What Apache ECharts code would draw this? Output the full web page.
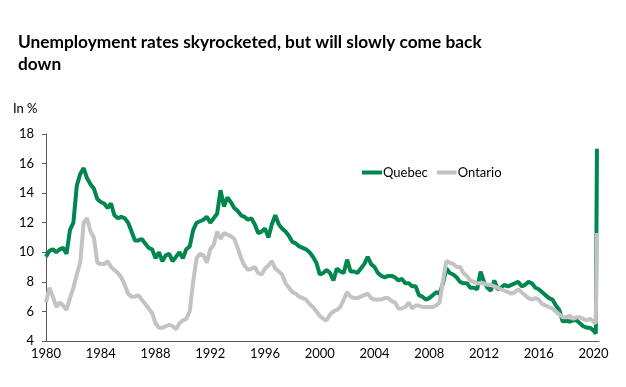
<!DOCTYPE html>
<html>
<head>
<meta charset="utf-8">
<script src="https://cdn.jsdelivr.net/npm/echarts@6/dist/echarts.min.js"></script>
<style>
html,body{margin:0;padding:0;background:#fff;}
#chart{width:626px;height:387px;}
</style>
</head>
<body>
<div id="chart"></div>
<script>
// Quarterly readings (Jan, Apr, Jul, Oct) from 1980 Q1 to Jan 2020
const startYear = 1980;
const stepYears = 0.25;
const quebecQuarterly = [
  9.7, 10.1, 10.2, 10.0,   // 1980
  10.2, 10.3, 9.9, 11.5,   // 1981
  12.0, 14.5, 15.3, 15.7,  // 1982
  15.0, 14.6, 14.3, 13.6,  // 1983
  13.4, 13.3, 13.0, 13.3,  // 1984
  12.5, 12.3, 12.4, 12.3,  // 1985
  12.0, 11.4, 10.8, 10.8,  // 1986
  10.9, 10.6, 10.3, 10.2,  // 1987
  9.6, 10.0, 9.4, 9.8,     // 1988
  9.9, 9.4, 9.7, 10.0,     // 1989
  9.6, 10.2, 10.4, 11.5,   // 1990
  12.0, 12.1, 12.2, 12.4,  // 1991
  12.0, 12.3, 12.6, 14.2,  // 1992
  13.1, 13.7, 13.4, 13.0,  // 1993
  12.8, 12.5, 12.4, 12.2,  // 1994
  12.3, 11.9, 11.3, 11.4,  // 1995
  11.6, 11.0, 11.9, 12.5,  // 1996
  11.9, 11.6, 11.4, 11.1,  // 1997
  10.7, 10.6, 10.4, 10.3,  // 1998
  10.2, 10.0, 9.7, 9.3,    // 1999
  8.5, 8.6, 8.8, 8.6,      // 2000
  8.1, 8.9, 8.7, 8.6,      // 2001
  9.5, 8.7, 8.7, 8.6,      // 2002
  8.9, 9.2, 9.7, 9.2,      // 2003
  9.0, 8.6, 8.4, 8.3,      // 2004
  8.4, 8.4, 8.3, 8.1,      // 2005
  8.2, 7.9, 7.9, 7.7,      // 2006
  7.7, 7.1, 7.0, 6.8,      // 2007
  6.9, 7.1, 7.3, 7.2,      // 2008
  7.9, 8.9, 8.6, 8.5,      // 2009
  8.3, 8.0, 7.9, 7.9,      // 2010
  7.6, 7.6, 7.5, 8.7,      // 2011
  8.0, 7.6, 7.4, 8.1,      // 2012
  7.5, 7.6, 7.8, 7.7,      // 2013
  7.8, 7.9, 8.0, 7.7,      // 2014
  7.8, 8.0, 7.9, 7.6,      // 2015
  7.5, 7.3, 7.1, 6.9,      // 2016
  6.8, 6.4, 6.1, 5.3,      // 2017
  5.4, 5.3, 5.4, 5.4,      // 2018
  5.2, 5.0, 4.9, 4.9,      // 2019
  4.7                      // Jan 2020
];
const ontarioQuarterly = [
  6.6, 7.6, 7.0, 6.3,      // 1980
  6.6, 6.4, 6.1, 6.9,      // 1981
  7.6, 8.5, 9.3, 12.0,     // 1982
  12.3, 11.4, 11.0, 9.3,   // 1983
  9.2, 9.2, 9.4, 9.0,      // 1984
  8.8, 8.6, 8.3, 7.8,      // 1985
  7.2, 7.0, 7.0, 7.1,      // 1986
  6.8, 6.5, 6.2, 5.9,      // 1987
  5.2, 4.9, 4.9, 5.0,      // 1988
  5.1, 5.0, 4.8, 5.2,      // 1989
  5.4, 5.5, 6.0, 8.0,      // 1990
  9.6, 9.9, 9.8, 9.3,      // 1991
  10.2, 10.5, 11.4, 10.9,  // 1992
  11.3, 11.2, 11.1, 10.9,  // 1993
  10.3, 9.6, 9.1, 8.8,     // 1994
  8.9, 9.0, 8.6, 8.5,      // 1995
  8.9, 9.1, 9.4, 8.9,      // 1996
  8.7, 8.5, 7.9, 7.6,      // 1997
  7.3, 7.2, 7.0, 6.9,      // 1998
  6.8, 6.5, 6.3, 6.0,      // 1999
  5.7, 5.5, 5.4, 5.8,      // 2000
  6.0, 6.1, 6.3, 6.8,      // 2001
  7.3, 7.0, 6.9, 6.9,      // 2002
  7.0, 7.1, 7.2, 6.9,      // 2003
  6.8, 6.8, 6.8, 6.9,      // 2004
  6.9, 6.7, 6.6, 6.2,      // 2005
  6.2, 6.3, 6.6, 6.2,      // 2006
  6.4, 6.4, 6.3, 6.3,      // 2007
  6.3, 6.3, 6.4, 6.6,      // 2008
  8.1, 9.4, 9.3, 9.2,      // 2009
  9.0, 9.0, 8.6, 8.4,      // 2010
  8.1, 8.0, 7.9, 7.9,      // 2011
  7.9, 7.8, 7.8, 7.7,      // 2012
  7.6, 7.5, 7.4, 7.3,      // 2013
  7.2, 7.3, 7.5, 7.3,      // 2014
  7.1, 6.9, 6.8, 6.9,      // 2015
  6.8, 6.5, 6.4, 6.3,      // 2016
  6.2, 6.0, 5.8, 5.6,      // 2017
  5.6, 5.7, 5.5, 5.6,      // 2018
  5.6, 5.5, 5.4, 5.5,      // 2019
  5.3                      // Jan 2020
];
// Latest monthly points: March and April 2020
const recentMonths = [3, 4];
const quebecRecent = [4.5, 17.0];
const ontarioRecent = [5.2, 11.3];

const yTicks = [4, 6, 8, 10, 12, 14, 16, 18];
const xTickYears = [1980, 1984, 1988, 1992, 1996, 2000, 2004, 2008, 2012, 2016, 2020];

function buildSeries(quarterly, recent) {
  const pts = quarterly.map((v, i) => [startYear + i * stepYears, v]);
  recent.forEach((v, i) => pts.push([2020 + (recentMonths[i] - 1) / 12, v]));
  return pts;
}

const GREEN = '#00874d';
const GREY = '#c3c3c3';
const FONT = 'Lato, "Open Sans", sans-serif';

const chart = echarts.init(document.getElementById('chart'), null, {renderer: 'canvas'});
chart.setOption({
  animation: false,
  backgroundColor: '#ffffff',
  title: {
    text: 'Unemployment rates skyrocketed, but will slowly come back\ndown',
    left: 13, top: 26,
    textStyle: {fontFamily: FONT, fontWeight: 'bold', fontSize: 17.3, color: '#000', lineHeight: 22}
  },
  graphic: [{
    type: 'text', left: 13, top: 102,
    style: {text: 'In %', fontFamily: FONT, fontSize: 13, fill: '#000'}
  }],
  legend: {
    left: 357, top: 161,
    itemWidth: 20, itemHeight: 4, itemGap: 9,
    icon: 'rect',
    textStyle: {fontFamily: FONT, fontSize: 13, color: '#000', padding: [0, 0, 0, -4]},
    data: ['Quebec', 'Ontario']
  },
  grid: {left: 46, right: 27, top: 134, bottom: 46, containLabel: false},
  xAxis: {
    type: 'value', min: 1980, max: 2020.4, interval: 4,
    axisLine: {show: true, lineStyle: {color: '#595959', width: 1}},
    axisTick: {show: false},
    splitLine: {show: false},
    axisLabel: {
      fontFamily: FONT, fontSize: 13, color: '#000', margin: 6,
      showMaxLabel: false,
      formatter: v => (xTickYears.indexOf(Math.round(v)) >= 0 ? String(Math.round(v)) : '')
    }
  },
  yAxis: {
    type: 'value', min: 4, max: 18, interval: 2,
    axisLine: {show: true, lineStyle: {color: '#595959', width: 1}},
    axisTick: {show: true, length: 4, lineStyle: {color: '#595959'}},
    splitLine: {show: false},
    axisLabel: {
      fontFamily: FONT, fontSize: 13, color: '#000', margin: 12,
      formatter: v => (yTicks.indexOf(v) >= 0 ? String(v) : '')
    }
  },
  series: [
    {
      name: 'Quebec', type: 'line', showSymbol: false, symbol: 'none',
      data: buildSeries(quebecQuarterly, quebecRecent),
      lineStyle: {color: GREEN, width: 4},
      itemStyle: {color: GREEN}
    },
    {
      name: 'Ontario', type: 'line', showSymbol: false, symbol: 'none',
      data: buildSeries(ontarioQuarterly, ontarioRecent),
      lineStyle: {color: GREY, width: 4},
      itemStyle: {color: GREY}
    }
  ]
});
</script>
</body>
</html>
